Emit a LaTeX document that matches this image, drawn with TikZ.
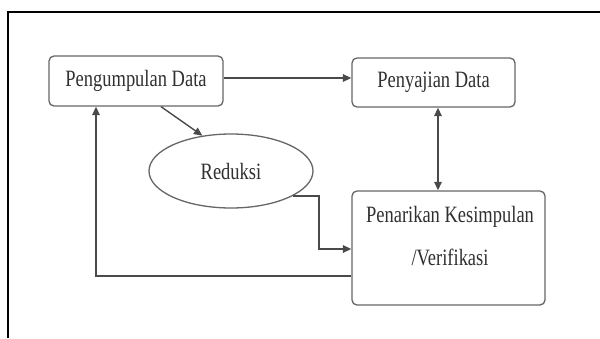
\documentclass[tikz,border=0pt]{standalone}
\usepackage{fontspec}
\setmainfont{Liberation Serif}
\newfontfamily\tallserif[FakeStretch=0.79]{Liberation Serif}
\usetikzlibrary{arrows.meta,shapes.geometric}
\definecolor{linegray}{HTML}{4A4A4A}
\definecolor{boxgray}{HTML}{666666}
\definecolor{textgray}{HTML}{303030}

\begin{document}
\begin{tikzpicture}[
    x=1pt, y=-1pt,
    box/.style={rectangle, draw=boxgray, line width=1.3pt, text=textgray, rounded corners=5pt, font=\tallserif\fontsize{23.4}{43}\selectfont},
    oval/.style={ellipse, draw=boxgray, line width=1.3pt, text=textgray, minimum width=164pt, minimum height=74pt, font=\tallserif\fontsize{23.4}{26}\selectfont},
    arrow/.style={-{Triangle[length=8.5pt,width=7.5pt]}, draw=linegray, line width=1.4pt},
    label/.style={text=textgray, align=center, font=\tallserif\fontsize{23.4}{43}\selectfont}
]
\useasboundingbox (0,0) rectangle (600,338);

% Bingkai
\draw[line width=1.6pt] (8,338) -- (8,12) -- (600,12);

% Komponen utama
\node[box, minimum width=174pt, minimum height=50pt] (collect) at (136,81) {Pengumpulan Data};
\node[box, minimum width=163pt, minimum height=49pt] (present) at (433.5,82.5) {Penyajian Data};
\node[oval] (reduce) at (231,171) {Reduksi};
\node[box, minimum width=193pt, minimum height=114pt] (concl) at (448.5,248) {};
\node[label] (concltext) at (450,236.5) {Penarikan Kesimpulan\\/Verifikasi};

% Koneksi
\draw[arrow] ([yshift=3pt]collect.east) -- ([yshift=3pt]collect.east -| present.west);
\draw[arrow] ([xshift=25pt]collect.south) -- (reduce.129);
\draw[arrow, {Triangle[length=8.5pt,width=7.5pt]}-{Triangle[length=8.5pt,width=7.5pt]}] ([xshift=4.5pt]present.south) -- ([xshift=4.5pt]present.south |- concl.north);
\draw[arrow] (reduce.-22) -- ++(26,0) |- ([yshift=-1pt]concl.west);
\draw[arrow] ([yshift=-28pt]concl.west) -| ([xshift=-40pt]collect.south);

\end{tikzpicture}
\end{document}
